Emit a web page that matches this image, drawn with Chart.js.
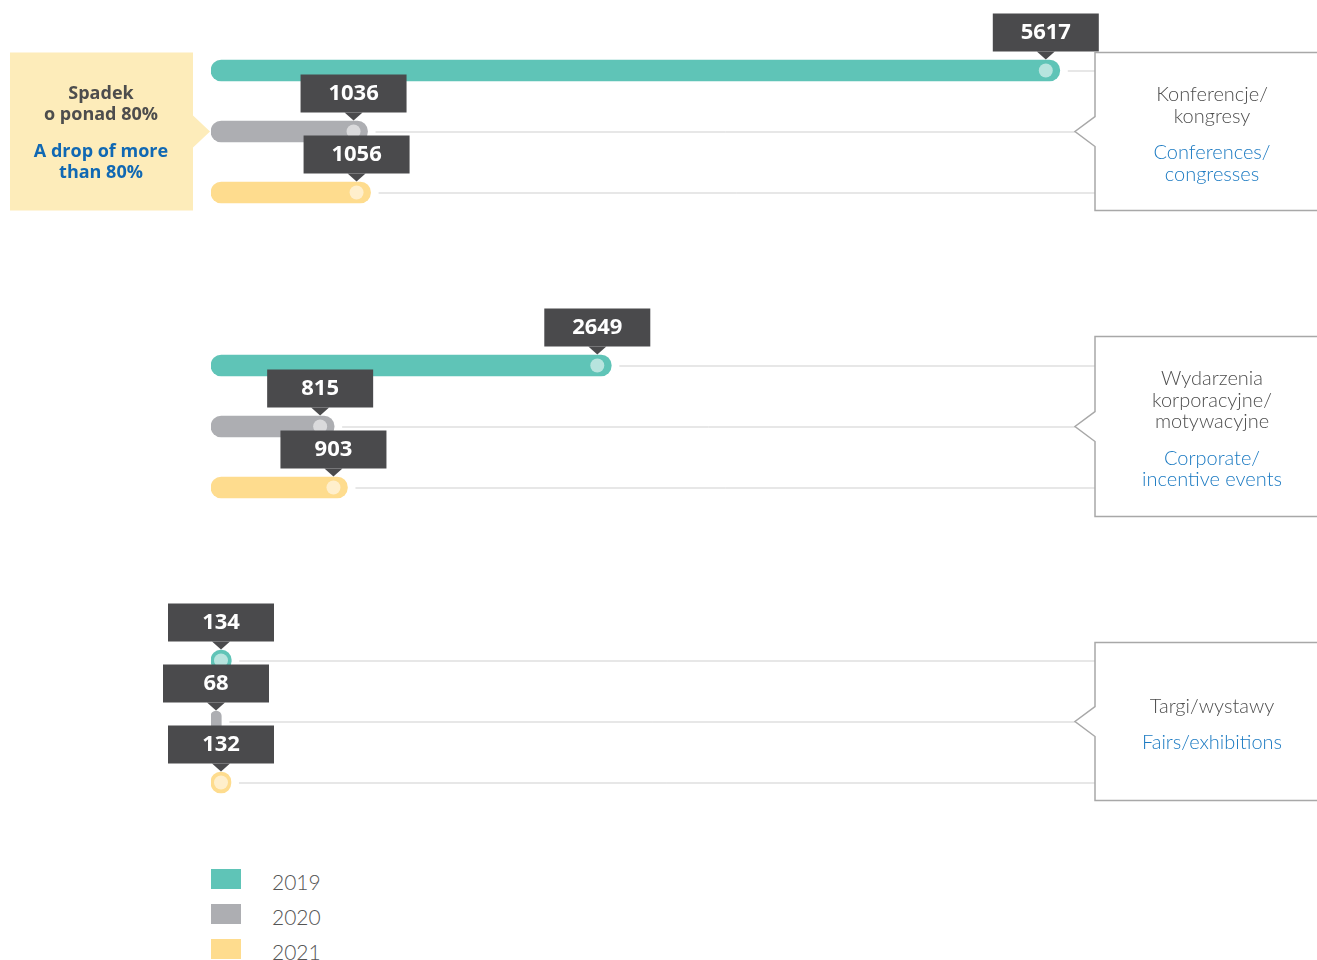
<!DOCTYPE html>
<html>
<head>
<meta charset="utf-8">
<script src="https://cdn.jsdelivr.net/npm/chart.js@4/dist/chart.umd.min.js"></script>
<style>
  body { margin: 0; background: #fff; width: 1317px; height: 960px; position: relative; overflow: hidden; font-family: Lato, sans-serif; }
  .grp { position: absolute; left: 0; width: 1317px; height: 240px; }
  .legend { position: absolute; left: 211px; top: 869px; }
  .legend div { display: flex; align-items: flex-start; height: 35px; }
  .legend span.sw { width: 30px; height: 20px; display: inline-block; }
  .legend span.lb { margin-left: 31px; font-size: 21px; line-height: 20px; position: relative; top: 3px; font-weight: 300; color: #555; }
</style>
</head>
<body>
<div class="grp" style="top:0px"><canvas id="g0" width="1317" height="240"></canvas></div>
<div class="grp" style="top:295px"><canvas id="g1" width="1317" height="240"></canvas></div>
<div class="grp" style="top:590px"><canvas id="g2" width="1317" height="240"></canvas></div>
<div class="legend" id="legend"></div>
<script>
const years = ['2019', '2020', '2021'];
const values2019 = [5617, 2649, 134];
const values2020 = [1036, 815, 68];
const values2021 = [1056, 903, 132];
const namesPl = [['Konferencje/', 'kongresy'], ['Wydarzenia', 'korporacyjne/', 'motywacyjne'], ['Targi/wystawy']];
const namesEn = [['Conferences/', 'congresses'], ['Corporate/', 'incentive events'], ['Fairs/exhibitions']];
const notePl = ['Spadek', 'o ponad 80%'];
const noteEn = ['A drop of more', 'than 80%'];
const colors = ['#5fc4b7', '#adaeb2', '#fedc8e'];
const boxPad = [18, 29, 18];

const boxLeft = 1095;

function drawExtras(chart, gi) {
  let ctx = chart.ctx;
  let bars = chart.getDatasetMeta(0).data;
  ctx.save();
  // dots and guide lines
  bars.forEach((bar, i) => {
    let end = bar.x, y = bar.y, len = bar.x - bar.base;
    ctx.strokeStyle = '#cfcfcf';
    ctx.lineWidth = 1;
    ctx.beginPath();
    ctx.moveTo(end + 8, y + 0.5);
    ctx.lineTo(i === 1 ? boxLeft - 20 : boxLeft, y + 0.5);
    ctx.stroke();
    if (len >= 18) {
      let dx = Math.max(end - 14, bar.base + 10);
      ctx.fillStyle = 'rgba(255,255,255,0.55)';
      ctx.beginPath();
      ctx.arc(dx, y, 7, 0, Math.PI * 2);
      ctx.fill();
    }
  });
  // callouts
  bars.forEach((bar, i) => {
    let len = bar.x - bar.base;
    let cx = len >= 18 ? Math.max(bar.x - 14, bar.base + 10) : bar.base + 5;
    let bottom = bar.y - 19;
    ctx.fillStyle = '#4a4a4c';
    ctx.fillRect(cx - 53, bottom - 38, 106, 38);
    ctx.beginPath();
    ctx.moveTo(cx - 9, bottom);
    ctx.lineTo(cx + 9, bottom);
    ctx.lineTo(cx, bottom + 8);
    ctx.closePath();
    ctx.fill();
    ctx.fillStyle = '#fff';
    ctx.font = 'bold 22px "Open Sans"';
    ctx.textAlign = 'center';
    ctx.textBaseline = 'middle';
    ctx.fillText(chart.data.datasets[0].data[i], cx, bottom - 19);
  });
  // right label box
  let top = bars[0].y - boxPad[gi], bot = bars[2].y + boxPad[gi], mid = bars[1].y;
  ctx.strokeStyle = '#a8a8a8';
  ctx.lineWidth = 1.5;
  ctx.beginPath();
  ctx.moveTo(1320, top);
  ctx.lineTo(boxLeft, top);
  ctx.lineTo(boxLeft, mid - 15);
  ctx.lineTo(boxLeft - 20, mid);
  ctx.lineTo(boxLeft, mid + 15);
  ctx.lineTo(boxLeft, bot);
  ctx.lineTo(1320, bot);
  ctx.stroke();
  let pl = namesPl[gi], en = namesEn[gi];
  let lh = 21.5, gap = 15;
  let total = (pl.length + en.length - 1) * lh + gap;
  let ty = mid + 3 - total / 2;
  ctx.font = '300 20px Lato';
  ctx.textAlign = 'center';
  ctx.textBaseline = 'middle';
  ctx.fillStyle = '#4d4d4d';
  pl.forEach((t, k) => ctx.fillText(t, 1212, ty + k * lh));
  ctx.fillStyle = '#1b7ac2';
  en.forEach((t, k) => ctx.fillText(t, 1212, ty + (pl.length + k) * lh + gap - lh + lh));
  // left note (first group only)
  if (gi === 0) {
    ctx.fillStyle = '#fdecba';
    ctx.fillRect(10, top, 183, bot - top);
    ctx.beginPath();
    ctx.moveTo(193, mid - 16);
    ctx.lineTo(210, mid);
    ctx.lineTo(193, mid + 16);
    ctx.closePath();
    ctx.fill();
    ctx.font = 'bold 18px "Open Sans"';
    ctx.fillStyle = '#4d4d4d';
    ctx.fillText(notePl[0], 101, 94);
    ctx.fillText(notePl[1], 101, 115);
    ctx.fillStyle = '#1068b3';
    ctx.fillText(noteEn[0], 101, 152);
    ctx.fillText(noteEn[1], 101, 173);
  }
  ctx.restore();
}

for (let gi = 0; gi < 3; gi++) {
  let ctx = document.getElementById('g' + gi).getContext('2d');
  new Chart(ctx, {
    type: 'bar',
    data: {
      labels: years,
      datasets: [{
        data: [values2019[gi], values2020[gi], values2021[gi]],
        backgroundColor: colors,
        barThickness: 21,
        borderRadius: 10.5,
        borderSkipped: false
      }]
    },
    options: {
      indexAxis: 'y',
      responsive: false,
      devicePixelRatio: 1,
      animation: false,
      layout: { padding: { left: 211, right: 222, top: 40, bottom: 17 } },
      scales: {
        x: { display: false, min: 0, max: 5850 },
        y: { display: false }
      },
      plugins: { legend: { display: false }, tooltip: { enabled: false } }
    },
    plugins: [{ id: 'extras', afterDatasetsDraw: (chart) => drawExtras(chart, gi) }]
  });
}

let legend = document.getElementById('legend');
years.forEach((y, i) => {
  let row = document.createElement('div');
  row.innerHTML = `<span class="sw" style="background:${colors[i]}"></span><span class="lb">${y}</span>`;
  legend.appendChild(row);
});
</script>
</body>
</html>
